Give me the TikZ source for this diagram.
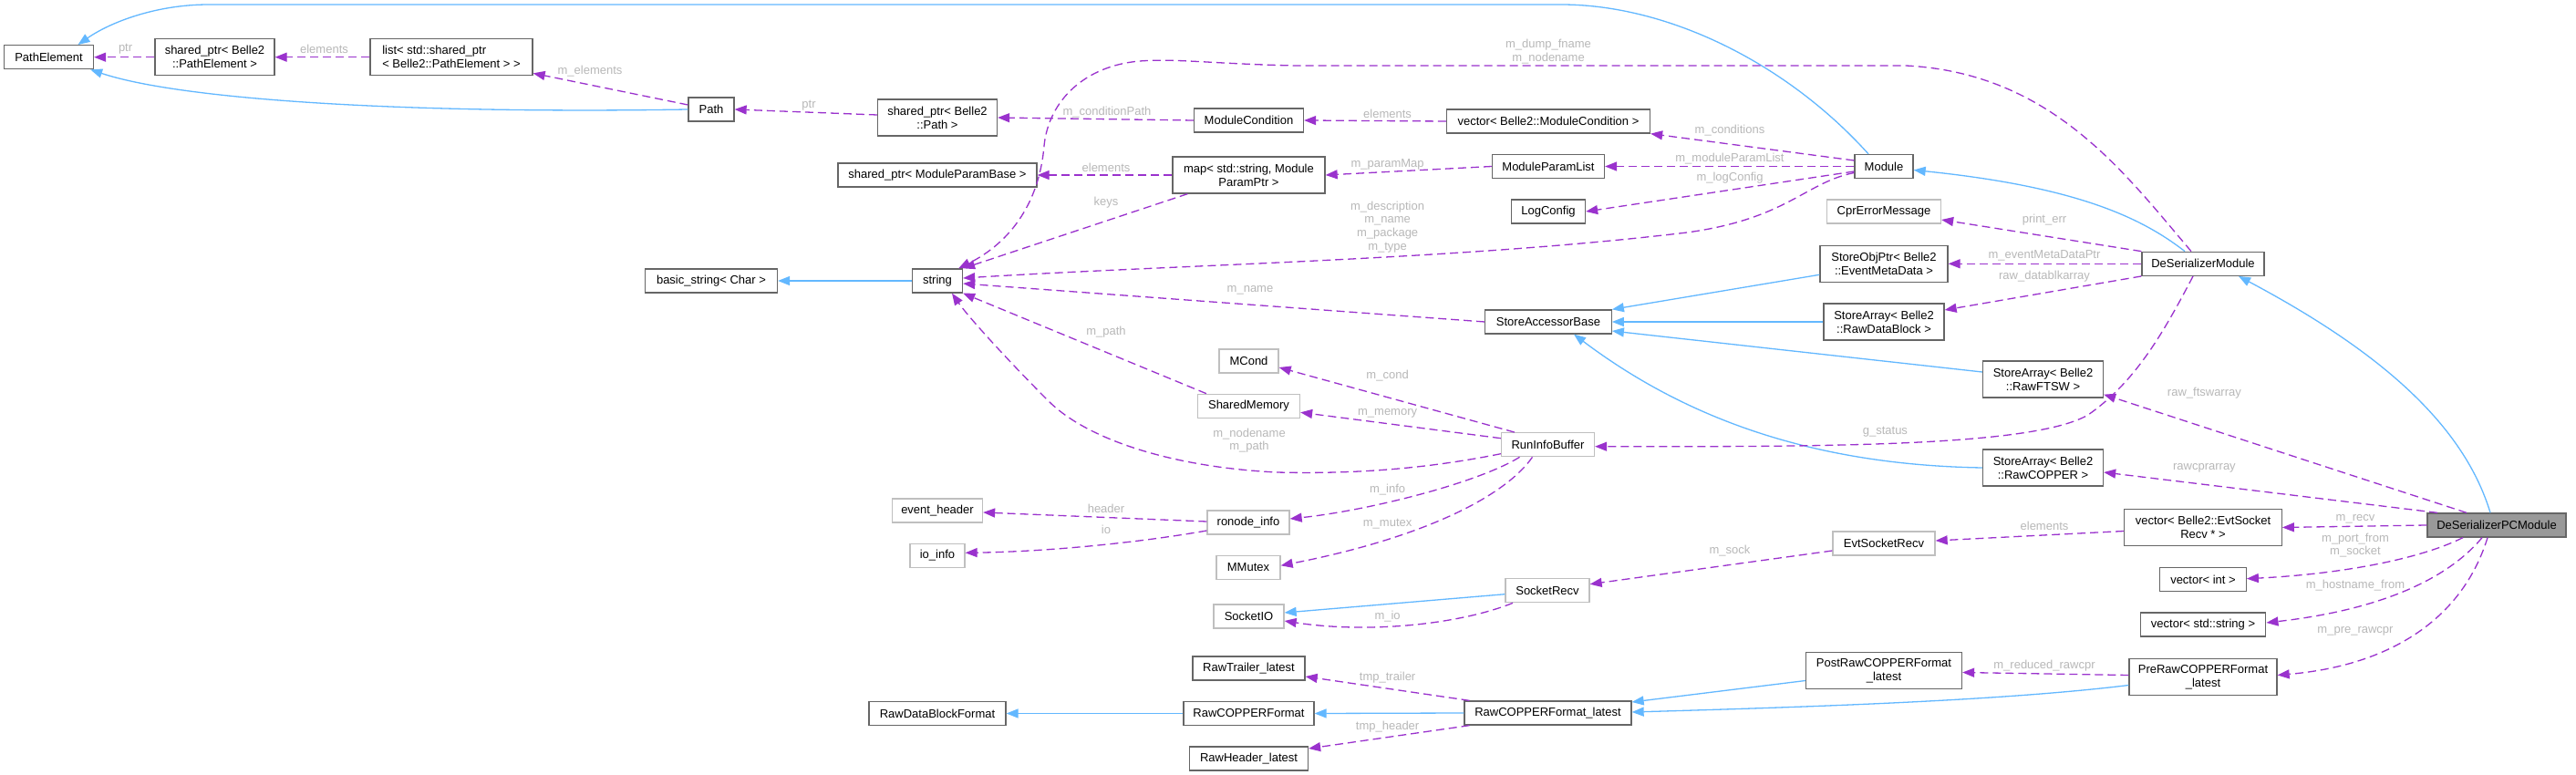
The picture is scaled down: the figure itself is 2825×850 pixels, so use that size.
\documentclass[tikz,border=0pt]{standalone}
\usepackage{fontspec}
\setmainfont{Liberation Sans}
\usetikzlibrary{arrows.meta}
\definecolor{usecol}{HTML}{9A32CD}
\definecolor{inhcol}{HTML}{63B8FF}
\definecolor{boxdark}{HTML}{666666}
\definecolor{boxlight}{HTML}{BFBFBF}
\definecolor{lblcol}{HTML}{B8B8B8}
\definecolor{maincol}{HTML}{999999}

\begin{document}
\begin{tikzpicture}[x=1pt, y=-1pt,
  every node/.style={font=\fontsize{13}{15}\selectfont},
  cls/.style={draw=boxdark, line width=1.3pt, fill=white, rectangle, minimum height=26pt, inner sep=2pt, align=center},
  cls2/.style={cls, minimum height=40pt},
  ext/.style={cls, draw=boxlight},
  main/.style={cls, fill=maincol},
  lbl/.style={text=lblcol, inner sep=0pt, align=center, font=\fontsize{13}{14.7}\selectfont},
  usage/.style={color=usecol, line width=1.3pt, dash pattern=on 9pt off 5pt, -{Triangle[length=13pt,width=10pt]}},
  inh/.style={color=inhcol, line width=1.3pt, -{Triangle[length=13pt,width=10pt]}},
  uses/.style={every edge/.style={draw, usage}},
  derives/.style={every edge/.style={draw, inh}}]
  \fill[white] (0,0) rectangle (2825,850);
  \useasboundingbox (0,0) rectangle (2825,850);

  \node[cls, minimum width=98pt] (pe) at (53.5,62.7) {PathElement};
  \node[cls2, minimum width=131pt] (spe) at (235.5,62.7) {shared\_ptr< Belle2\\::PathElement >};
  \node[cls2, minimum width=178pt, align=left] (lst) at (495,62.7) {list< std::shared\_ptr\\< Belle2::PathElement > >};
  \node[cls, minimum width=50pt] (path) at (780,120) {Path};
  \node[cls2, minimum width=131pt] (spp) at (1028,129) {shared\_ptr< Belle2\\::Path >};
  \node[cls, minimum width=120pt] (mcnd) at (1369.5,132) {ModuleCondition};
  \node[cls, minimum width=223pt] (vmc) at (1698,133) {vector< Belle2::ModuleCondition >};
  \node[cls, minimum width=218pt] (spmpb) at (1028,192) {shared\_ptr< ModuleParamBase >};
  \node[cls2, minimum width=167pt] (pmap) at (1369.5,192) {map< std::string, Module\\ParamPtr >};
  \node[cls, minimum width=123pt] (mpl) at (1698,182.5) {ModuleParamList};
  \node[cls, minimum width=64pt] (mod) at (2066,182.5) {Module};
  \node[cls, minimum width=81pt] (logc) at (1698,232) {LogConfig};
  \node[ext, minimum width=125pt] (cpr) at (2066,232) {CprErrorMessage};
  \node[cls2, minimum width=140pt] (sop) at (2066,289.3) {StoreObjPtr< Belle2\\::EventMetaData >};
  \node[cls, minimum width=134pt] (dsm) at (2416,289.3) {DeSerializerModule};
  \node[cls, minimum width=145pt] (bstr) at (780,308) {basic\_string< Char >};
  \node[cls, minimum width=55pt] (str) at (1028,308) {string};
  \node[cls, minimum width=138.5pt] (sab) at (1698,353) {StoreAccessorBase};
  \node[cls2, minimum width=132pt] (sadb) at (2066,353) {StoreArray< Belle2\\::RawDataBlock >};
  \node[ext, minimum width=65pt] (mcond) at (1369.5,396) {MCond};
  \node[cls2, minimum width=132pt] (ftsw) at (2240.5,416) {StoreArray< Belle2\\::RawFTSW >};
  \node[ext, minimum width=112pt] (shm) at (1369.5,445.3) {SharedMemory};
  \node[ext, minimum width=102pt] (rib) at (1697.5,487.7) {RunInfoBuffer};
  \node[cls2, minimum width=132pt] (rcpr) at (2240.5,513) {StoreArray< Belle2\\::RawCOPPER >};
  \node[ext, minimum width=99pt] (evh) at (1028,560) {event\_header};
  \node[ext, minimum width=90pt] (ron) at (1369,573) {ronode\_info};
  \node[cls2, minimum width=172.5pt] (vesr) at (2416,578.5) {vector< Belle2::EvtSocket\\Recv * >};
  \node[main, minimum width=152pt] (pcm) at (2738,576) {DeSerializerPCModule};
  \node[ext, minimum width=112pt] (esr) at (2066,596) {EvtSocketRecv};
  \node[ext, minimum width=60pt] (ioi) at (1028,609.3) {io\_info};
  \node[ext, minimum width=70pt] (mtx) at (1369,622.3) {MMutex};
  \node[cls, minimum width=94.5pt] (vint) at (2416,635.7) {vector< int >};
  \node[ext, minimum width=92pt] (srecv) at (1697,647.7) {SocketRecv};
  \node[ext, minimum width=77pt] (sio) at (1369.5,676) {SocketIO};
  \node[cls, minimum width=137.6pt] (vstr) at (2416,685) {vector< std::string >};
  \node[cls, minimum width=123pt] (rtl) at (1369.5,733) {RawTrailer\_latest};
  \node[cls2, minimum width=171pt] (post) at (2066,735.5) {PostRawCOPPERFormat\\\_latest};
  \node[cls2, minimum width=162pt] (pre) at (2416,742.5) {PreRawCOPPERFormat\\\_latest};
  \node[cls, minimum width=150pt] (rdbf) at (1028,782.5) {RawDataBlockFormat};
  \node[cls, minimum width=143pt] (rcf) at (1369.5,782.5) {RawCOPPERFormat};
  \node[cls, minimum width=183pt] (rcfl) at (1697.5,782) {RawCOPPERFormat\_latest};
  \node[cls, minimum width=130pt] (rhl) at (1369.5,832) {RawHeader\_latest};

  \node[lbl] (l1) at (137.6,54) {ptr};
  \node[lbl] (l2) at (355.5,54) {elements};
  \node[lbl] (l3) at (647,78) {m\_elements};
  \node[lbl] (l4) at (887,116) {ptr};
  \node[lbl] (l5) at (1214,122.7) {m\_conditionPath};
  \node[lbl] (l6) at (1521.6,125) {elements};
  \node[lbl] (l7) at (1897,142.7) {m\_conditions};
  \node[lbl] (l8) at (1213,184) {elements};
  \node[lbl] (l9) at (1213,222) {keys};
  \node[lbl] (l10) at (1521.6,180) {m\_paramMap};
  \node[lbl] (l11) at (1897,174) {m\_moduleParamList};
  \node[lbl] (l12) at (1897,194.7) {m\_logConfig};
  \node[lbl] (l13) at (1521.6,248.7) {m\_description\\m\_name\\m\_package\\m\_type};
  \node[lbl] (l14) at (1698,56.5) {m\_dump\_fname\\m\_nodename};
  \node[lbl] (l15) at (1371,318.7) {m\_name};
  \node[lbl] (l16) at (1213,363.7) {m\_path};
  \node[lbl] (l17) at (1370,483.2) {m\_nodename\\m\_path};
  \node[lbl] (l18) at (2242,240.7) {print\_err};
  \node[lbl] (l19) at (2242,280.7) {m\_eventMetaDataPtr};
  \node[lbl] (l20) at (2242,302.7) {raw\_datablkarray};
  \node[lbl] (l21) at (2067.4,473.3) {g\_status};
  \node[lbl] (l22) at (1521.6,411.7) {m\_cond};
  \node[lbl] (l23) at (1521.6,453.3) {m\_memory};
  \node[lbl] (l24) at (1521.6,537) {m\_info};
  \node[lbl] (l25) at (1521.6,574.3) {m\_mutex};
  \node[lbl] (l26) at (1213,558) {header};
  \node[lbl] (l27) at (1213,581) {io};
  \node[lbl] (l28) at (1521.6,676) {m\_io};
  \node[lbl] (l29) at (1897,603.7) {m\_sock};
  \node[lbl] (l30) at (2242,576.7) {elements};
  \node[lbl] (l31) at (2417.4,430.7) {raw\_ftswarray};
  \node[lbl] (l32) at (2417.4,513.3) {rawcprarray};
  \node[lbl] (l33) at (2583,569) {m\_recv};
  \node[lbl] (l34) at (2583,598) {m\_port\_from\\m\_socket};
  \node[lbl] (l35) at (2583,642.3) {m\_hostname\_from};
  \node[lbl] (l36) at (2583,692) {m\_pre\_rawcpr};
  \node[lbl] (l37) at (2242,730) {m\_reduced\_rawcpr};
  \node[lbl] (l38) at (1521.6,743.3) {tmp\_trailer};
  \node[lbl] (l39) at (1521.6,796.7) {tmp\_header};

  \path[derives]
  (str.west) edge (bstr.east)
  ([yshift=-12pt]sop.west) edge (sab.north east)
  (sadb.west) edge (sab.east)
  ([yshift=8pt]ftsw.west) edge ([yshift=-10pt]sab.east)
  ([yshift=-4pt]srecv.west) edge ([yshift=4pt]sio.east)
  ([yshift=-11pt]post.west) edge ([yshift=12pt]rcfl.east)
  (rcfl.west) edge (rcf.east)
  (rcf.west) edge (rdbf.east);
  \draw[inh] ([xshift=-17pt]mod.north) .. controls (1960,70) and (1830,5) .. (1712,5) -- (229,5) .. controls (170,5) and (120,25) .. ([xshift=32pt]pe.north);
  \draw[inh] (path.west) .. controls (450,125) and (200,110) .. ([xshift=-4pt]pe.south east);
  \draw[inh] (rcpr.west) .. controls (1990,510) and (1850,460) .. ([xshift=28pt]sab.south);
  \draw[inh] ([xshift=-20pt]dsm.north) .. controls (2350,240) and (2280,205) .. ([yshift=-4pt]mod.east);
  \draw[inh] ([xshift=-7pt]pcm.north) .. controls (2700,460) and (2600,380) .. ([xshift=39pt]dsm.south);
  \draw[inh] ([yshift=-9pt]pre.west) .. controls (2200,768) and (2000,775) .. ([yshift=1pt]rcfl.east);

  \path[uses]
  (spe.west) edge (pe.east)
  (lst.west) edge (spe.east)
  ([yshift=5pt]path.west) edge ([yshift=3pt]lst.south east)
  ([yshift=3pt]spp.west) edge (path.east)
  (mcnd.west) edge (spp.east)
  (vmc.west) edge (mcnd.east)
  ([yshift=6.5pt]mod.west) edge (vmc.south east)
  (pmap.west) edge (spmpb.east)
  ([xshift=17pt]pmap.south west) edge (str.north east)
  (mpl.west) edge (pmap.east)
  (mod.west) edge (mpl.east)
  ([yshift=-5.5pt]mod.west) edge (logc.east)
  (sab.west) edge ([yshift=-3pt]str.east)
  ([xshift=10pt]shm.north west) edge (str.south east)
  (dsm.north west) edge ([yshift=-9pt]cpr.east)
  (dsm.west) edge (sop.east)
  (dsm.south west) edge ([yshift=13pt]sadb.east)
  ([xshift=15pt]rib.north west) edge ([yshift=-7pt]mcond.east)
  ([yshift=7pt]rib.west) edge ([yshift=-7pt]shm.east)
  ([yshift=1pt]ron.west) edge ([yshift=-2pt]evh.east)
  ([yshift=-8pt]esr.west) edge ([yshift=7pt]srecv.east)
  ([yshift=-4pt]vesr.west) edge ([yshift=3pt]esr.east)
  ([xshift=-33pt]pcm.north) edge ([yshift=4pt]ftsw.south east)
  ([xshift=-65pt]pcm.north) edge ([yshift=-5pt]rcpr.east)
  (pcm.west) edge (vesr.east)
  ([yshift=2pt]pre.west) edge ([yshift=-2pt]post.east)
  ([xshift=-86pt]rcfl.north) edge ([yshift=-9pt]rtl.east)
  ([xshift=-86pt]rcfl.south) edge ([yshift=11pt]rhl.east);
  \draw[usage] ([yshift=-7pt]mod.west) .. controls (1980,200) and (1960,240) .. (1850,255) .. controls (1600,285) and (1300,290) .. ([yshift=3pt]str.east);
  \draw[usage] ([xshift=-13pt]dsm.north) .. controls (2330,190) and (2250,80) .. (2090,72) -- (1420,72) .. controls (1330,70) and (1290,64) .. (1250,67) .. controls (1190,72) and (1150,110) .. (1145,160) .. controls (1140,220) and (1110,265) .. ([xshift=-5pt]str.north east);
  \draw[usage] ([yshift=-10pt]rib.west) .. controls (1560,515) and (1480,520) .. (1400,518) .. controls (1280,512) and (1190,480) .. (1150,440) .. controls (1100,390) and (1060,345) .. ([xshift=16pt]str.south);
  \draw[usage] ([xshift=-11pt]dsm.south) .. controls (2370,370) and (2340,420) .. (2290,455) .. controls (2230,490) and (2000,490) .. ([yshift=-2pt]rib.east);
  \draw[usage] ([xshift=-31pt]rib.south) .. controls (1620,530) and (1500,560) .. ([yshift=4pt]ron.east);
  \draw[usage] ([xshift=-17pt]rib.south) .. controls (1650,545) and (1560,590) .. ([yshift=2pt]mtx.east);
  \draw[usage] ([yshift=-9pt]ron.west) .. controls (1250,595) and (1150,605) .. ([yshift=3pt]ioi.east);
  \draw[usage] ([xshift=-38pt]srecv.south) .. controls (1600,685) and (1500,695) .. ([yshift=-5pt]sio.east);
  \draw[usage] ([xshift=-37pt]pcm.south) .. controls (2650,615) and (2560,630) .. ([yshift=1pt]vint.east);
  \draw[usage] ([xshift=-16pt]pcm.south) .. controls (2680,640) and (2600,670) .. ([yshift=2pt]vstr.east);
  \draw[usage] ([xshift=-10pt]pcm.south) .. controls (2700,680) and (2620,730) .. ([yshift=2pt]pre.east);
\end{tikzpicture}
\end{document}
